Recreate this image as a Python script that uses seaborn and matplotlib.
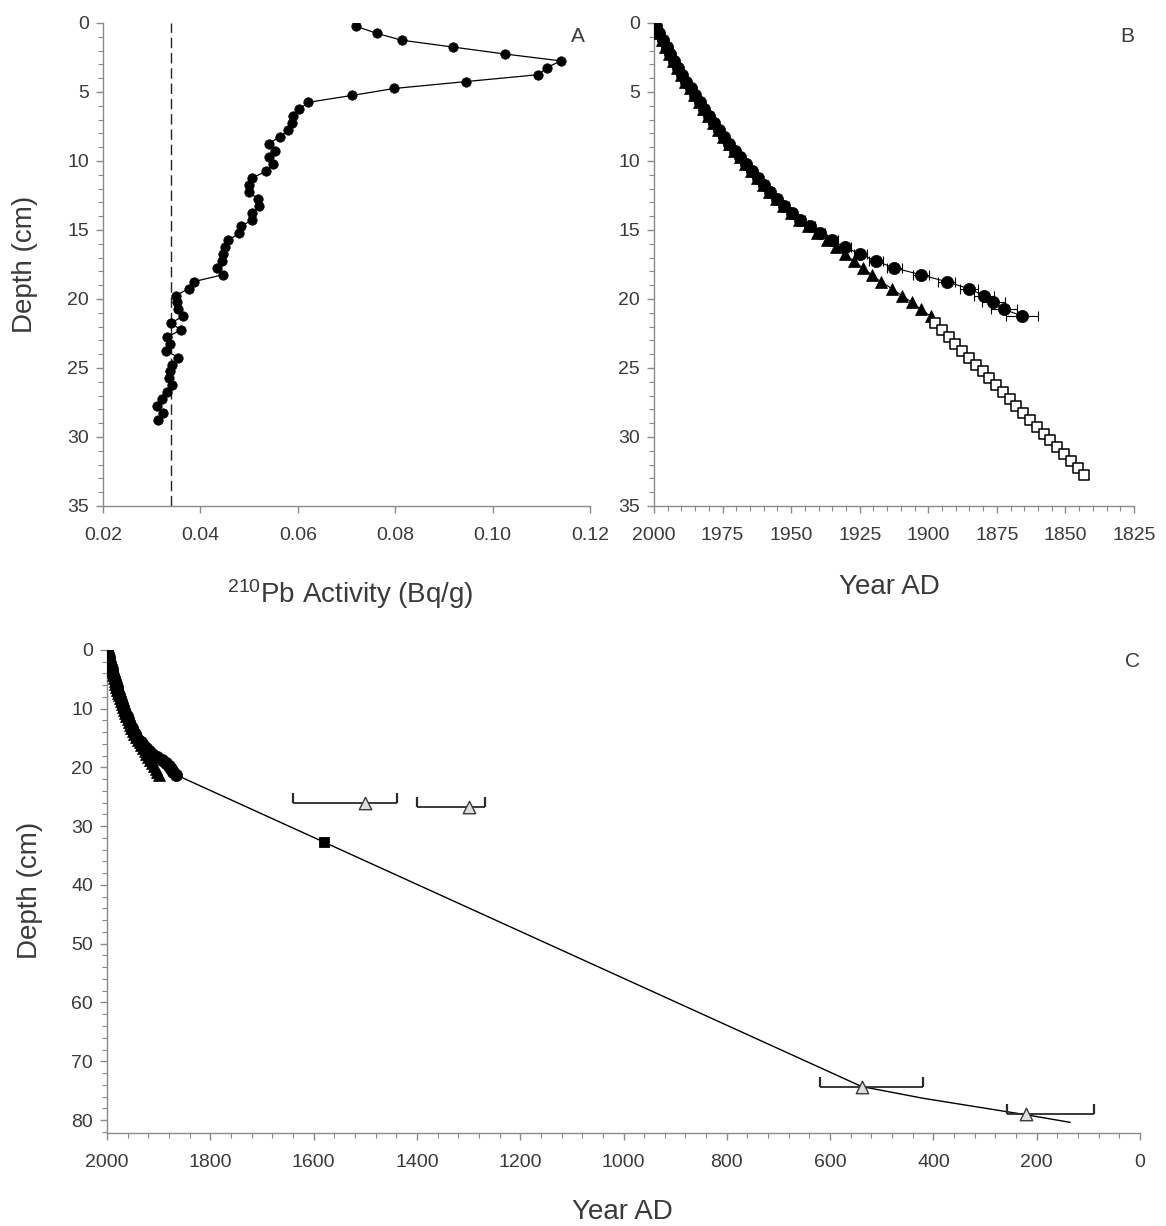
import numpy as np
import pandas as pd
import matplotlib
matplotlib.use("Agg")
import matplotlib.pyplot as plt
from matplotlib.ticker import MultipleLocator, FormatStrFormatter
import seaborn as sns

# ---------------- data ----------------
# A: 210Pb activity profile (0.5 cm slices, mid-depth)
depth_a = [0.25, 0.75, 1.25, 1.75, 2.25, 2.75, 3.25, 3.75, 4.25, 4.75,
           5.25, 5.75, 6.25, 6.75, 7.25, 7.75, 8.25, 8.75, 9.25, 9.75,
           10.25, 10.75, 11.25, 11.75, 12.25, 12.75, 13.25, 13.75, 14.25, 14.75,
           15.25, 15.75, 16.25, 16.75, 17.25, 17.75, 18.25, 18.75, 19.25, 19.75,
           20.25, 20.75, 21.25, 21.75, 22.25, 22.75, 23.25, 23.75, 24.25, 24.75,
           25.25, 25.75, 26.25, 26.75, 27.25, 27.75, 28.25, 28.75]
pb_activity = [0.0720, 0.0762, 0.0813, 0.0919, 0.1025, 0.1140, 0.1111, 0.1094, 0.0945, 0.0798,
               0.0712, 0.0622, 0.0603, 0.0590, 0.0589, 0.0580, 0.0563, 0.0540, 0.0554, 0.0540,
               0.0550, 0.0535, 0.0505, 0.0499, 0.0500, 0.0518, 0.0520, 0.0507, 0.0507, 0.0483,
               0.0479, 0.0457, 0.0450, 0.0447, 0.0444, 0.0434, 0.0446, 0.0386, 0.0376, 0.0350,
               0.0351, 0.0354, 0.0364, 0.0340, 0.0360, 0.0332, 0.0337, 0.0329, 0.0355, 0.0341,
               0.0338, 0.0335, 0.0341, 0.0332, 0.0322, 0.0311, 0.0324, 0.0314]
supported_pb = 0.034

# B: 210Pb chronologies
depth_b = [0.25, 0.75, 1.25, 1.75, 2.25, 2.75, 3.25, 3.75, 4.25, 4.75,
           5.25, 5.75, 6.25, 6.75, 7.25, 7.75, 8.25, 8.75, 9.25, 9.75,
           10.25, 10.75, 11.25, 11.75, 12.25, 12.75, 13.25, 13.75, 14.25, 14.75,
           15.25, 15.75, 16.25, 16.75, 17.25, 17.75, 18.25, 18.75, 19.25, 19.75,
           20.25, 20.75, 21.25]
crs_year = [1999.3, 1998.0, 1996.7, 1995.4, 1994.0, 1992.6, 1991.2, 1989.7, 1988.2, 1986.6,
            1985.0, 1983.3, 1981.6, 1979.9, 1978.1, 1976.3, 1974.4, 1972.5, 1970.5, 1968.5,
            1966.4, 1964.3, 1962.1, 1959.9, 1957.6, 1955.2, 1952.5, 1949.8, 1946.6, 1943.2,
            1939.5, 1935.2, 1930.5, 1924.8, 1919.1, 1912.4, 1902.7, 1893.3, 1885.3, 1879.7,
            1876.3, 1872.3, 1865.7]
crs_err = [0.3, 0.3, 0.4, 0.4, 0.4, 0.5, 0.5, 0.5, 0.6, 0.6,
           0.6, 0.7, 0.7, 0.8, 0.8, 0.9, 0.9, 1.0, 1.0, 1.1,
           1.1, 1.2, 1.3, 1.3, 1.4, 1.5, 1.6, 1.7, 1.8, 1.9,
           2.0, 2.1, 2.3, 2.4, 2.6, 2.8, 2.9, 3.1, 3.3, 3.7,
           4.2, 4.8, 5.8]
cic_year = [1999.6, 1998.5, 1997.2, 1995.9, 1994.6, 1993.1, 1991.7, 1990.2, 1988.6, 1987.0,
            1985.4, 1983.7, 1982.0, 1980.3, 1978.5, 1976.7, 1974.8, 1972.8, 1970.8, 1968.8,
            1966.7, 1964.6, 1962.4, 1960.2, 1957.9, 1955.5, 1952.9, 1950.2, 1947.1, 1943.8,
            1940.4, 1936.9, 1933.5, 1930.4, 1927.2, 1923.9, 1920.6, 1917.3, 1913.3, 1909.7,
            1906.0, 1902.7, 1899.1]
extrap_depth = [21.75, 22.25, 22.75, 23.25, 23.75, 24.25, 24.75, 25.25, 25.75, 26.25,
                26.75, 27.25, 27.75, 28.25, 28.75, 29.25, 29.75, 30.25, 30.75, 31.25,
                31.75, 32.25, 32.75]
extrap_year = [1897.5, 1895.0, 1892.6, 1890.1, 1887.6, 1885.2, 1882.7, 1880.2, 1877.7, 1875.3,
               1872.8, 1870.3, 1867.9, 1865.4, 1862.9, 1860.4, 1858.0, 1855.5, 1853.0, 1850.6,
               1848.1, 1845.6, 1843.1]

# C: full age-depth model
model_year = [1858, 1579, 539, 420, 221, 135]
model_depth = [21.6, 32.75, 74.3, 76.3, 79.1, 80.4]
marker_year = [1579]
marker_depth = [32.75]
c14_year = [1500, 1299, 539, 221]
c14_depth = [26.1, 26.7, 74.3, 78.9]
c14_old = [1640, 1400, 620, 258]
c14_young = [1438, 1268, 420, 89]

# ---------------- style ----------------
sns.set_theme(style="white")
plt.rcParams['font.family'] = ['Liberation Sans', 'DejaVu Sans']
plt.rcParams['mathtext.fontset'] = 'custom'
plt.rcParams['mathtext.rm'] = 'Liberation Sans'
plt.rcParams['mathtext.it'] = 'Liberation Sans:italic'

TEXT = '#3a3a3a'
SPINE = '#8a8a8a'
TICK_FS = 14
LABEL_FS = 20

fig = plt.figure(figsize=(11.66, 12.26), dpi=100)
fig.patch.set_facecolor('white')
axA = fig.add_axes([0.0883, 0.5873, 0.4177, 0.3940])
axB = fig.add_axes([0.5609, 0.5873, 0.4117, 0.3940])
axC = fig.add_axes([0.0918, 0.0759, 0.8859, 0.3940])


def style(ax):
    for s in ['top', 'right']:
        ax.spines[s].set_visible(False)
    for s in ['left', 'bottom']:
        ax.spines[s].set_color(SPINE)
        ax.spines[s].set_linewidth(1.0)
    ax.tick_params(which='both', direction='out', color=SPINE, left=True, bottom=True,
                   labelcolor=TEXT, labelsize=TICK_FS)
    ax.tick_params(which='major', length=5, width=1.0)
    ax.tick_params(which='minor', length=3.5, width=0.8)
    ax.tick_params(axis='x', which='both', pad=10)
    ax.tick_params(axis='y', which='major', pad=5)
    ax.grid(False)
    ax.set_facecolor('white')


for ax in (axA, axB, axC):
    style(ax)

# ---------------- A ----------------
dfA = pd.DataFrame({'activity': pb_activity, 'depth': depth_a})
axA.axvline(supported_pb, color='#222222', lw=1.0, linestyle=(0, (7.5, 3.5)), zorder=1)
sns.lineplot(data=dfA, x='activity', y='depth', sort=False, estimator=None,
             color='black', lw=0.9, marker='o', markersize=6.8,
             markeredgecolor='black', markeredgewidth=0.5, ax=axA, zorder=3)
axA.set_xlim(0.02, 0.12)
axA.set_ylim(35, 0)
axA.xaxis.set_major_locator(MultipleLocator(0.02))
axA.xaxis.set_major_formatter(FormatStrFormatter('%.2f'))
axA.yaxis.set_major_locator(MultipleLocator(5))
axA.yaxis.set_minor_locator(MultipleLocator(1))
axA.set_xlabel(r'$\mathregular{^{210}}$Pb Activity (Bq/g)', fontsize=LABEL_FS, color=TEXT)
axA.set_ylabel('Depth (cm)', fontsize=LABEL_FS, color=TEXT)
axA.xaxis.set_label_coords(0.507, -0.182)
axA.xaxis.label.set_va('center')
axA.yaxis.set_label_coords(-0.160, 0.50)
axA.yaxis.label.set_va('center')
axA.text(0.975, 0.971, 'A', transform=axA.transAxes, fontsize=15, color=TEXT,
         ha='center', va='center')


def pb_chronology(ax):
    ax.errorbar(crs_year, depth_b, xerr=crs_err, fmt='none', ecolor='black',
                elinewidth=0.8, capsize=3.5, capthick=0.8, zorder=2)
    sns.lineplot(x=cic_year, y=depth_b, sort=False, estimator=None, color='black',
                 lw=0.8, marker='^', markersize=8, markeredgecolor='black',
                 markeredgewidth=0.5, ax=ax, zorder=3)
    sns.lineplot(x=crs_year, y=depth_b, sort=False, estimator=None, color='black',
                 lw=0.8, marker='o', markersize=8.8, markeredgecolor='black',
                 markeredgewidth=0.5, ax=ax, zorder=4)


# ---------------- B ----------------
pb_chronology(axB)
sns.scatterplot(x=extrap_year, y=extrap_depth, marker='s', s=44, color='white',
                edgecolor='black', linewidth=1.1, ax=axB, zorder=3)
axB.set_xlim(2000, 1825)
axB.set_ylim(35, 0)
axB.xaxis.set_major_locator(MultipleLocator(25))
axB.xaxis.set_minor_locator(MultipleLocator(5))
axB.yaxis.set_major_locator(MultipleLocator(5))
axB.yaxis.set_minor_locator(MultipleLocator(1))
axB.set_xlabel('Year AD', fontsize=LABEL_FS, color=TEXT)
axB.set_ylabel('')
axB.xaxis.set_label_coords(0.49, -0.168)
axB.xaxis.label.set_va('center')
axB.text(0.985, 0.971, 'B', transform=axB.transAxes, fontsize=15, color=TEXT,
         ha='center', va='center')

# ---------------- C ----------------
sns.lineplot(x=model_year, y=model_depth, sort=False, estimator=None,
             color='black', lw=1.0, ax=axC, zorder=2)
pb_chronology(axC)
sns.scatterplot(x=marker_year, y=marker_depth, marker='s', s=55, color='black',
                edgecolor='black', ax=axC, zorder=5)
axC.hlines(c14_depth, c14_young, c14_old, color='#2a2a2a', lw=1.3, zorder=4)
axC.plot(c14_old, c14_depth, linestyle='none', marker=2, markersize=7,
         markeredgewidth=1.6, color='#2a2a2a', zorder=4)
axC.plot(c14_young, c14_depth, linestyle='none', marker=2, markersize=7,
         markeredgewidth=1.6, color='#2a2a2a', zorder=4)
sns.scatterplot(x=c14_year, y=c14_depth, marker='^', s=80, color='#dedede',
                edgecolor='#3a3a3a', linewidth=1.0, ax=axC, zorder=6)
axC.set_xlim(2000, 0)
axC.set_ylim(82.2, 0)
axC.xaxis.set_major_locator(MultipleLocator(200))
axC.xaxis.set_minor_locator(MultipleLocator(40))
axC.yaxis.set_major_locator(MultipleLocator(10))
axC.yaxis.set_minor_locator(MultipleLocator(2))
axC.set_xlabel('Year AD', fontsize=LABEL_FS, color=TEXT)
axC.set_ylabel('Depth (cm)', fontsize=LABEL_FS, color=TEXT)
axC.xaxis.set_label_coords(0.4985, -0.1636)
axC.xaxis.label.set_va('center')
axC.yaxis.set_label_coords(-0.0745, 0.503)
axC.yaxis.label.set_va('center')
axC.text(0.993, 0.975, 'C', transform=axC.transAxes, fontsize=15, color=TEXT,
         ha='center', va='center')

fig.savefig('out.png', dpi=100, facecolor='white')
